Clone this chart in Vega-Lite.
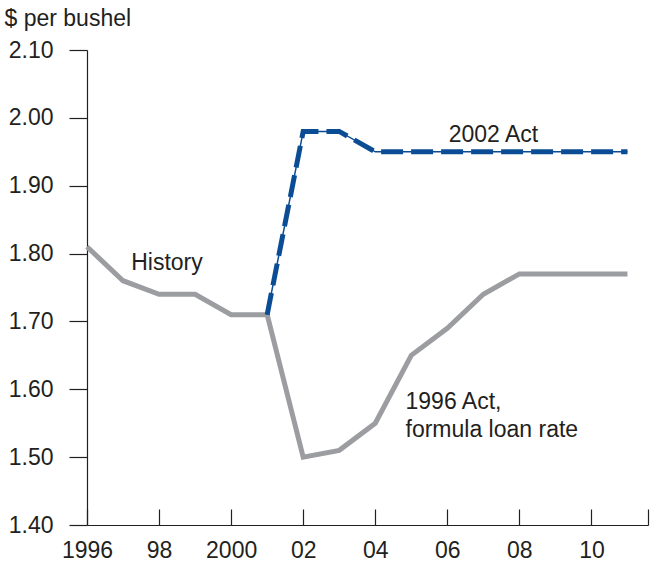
{
  "$schema": "https://vega.github.io/schema/vega-lite/v6.json",
  "width": 561,
  "height": 475,
  "autosize": {"type": "none"},
  "padding": {"left": 87, "top": 50, "right": 2, "bottom": 40},
  "background": "white",
  "config": {
    "view": {"stroke": null},
    "font": "Liberation Sans",
    "axis": {"grid": false, "domainColor": "#231f20", "tickColor": "#231f20", "labelColor": "#231f20", "titleColor": "#231f20", "labelFont": "Liberation Sans", "titleFont": "Liberation Sans", "labelFontSize": 23, "titleFontSize": 23, "titleFontWeight": "normal", "domainWidth": 1.2, "tickWidth": 1.2}
  },
  "datasets": {
    "lines": [
      {"year": 1996, "value": 1.81, "series": "History"},
      {"year": 1997, "value": 1.76, "series": "History"},
      {"year": 1998, "value": 1.74, "series": "History"},
      {"year": 1999, "value": 1.74, "series": "History"},
      {"year": 2000, "value": 1.71, "series": "History"},
      {"year": 2001, "value": 1.71, "series": "History"},
      {"year": 2001, "value": 1.71, "series": "1996 Act"},
      {"year": 2002, "value": 1.50, "series": "1996 Act"},
      {"year": 2003, "value": 1.51, "series": "1996 Act"},
      {"year": 2004, "value": 1.55, "series": "1996 Act"},
      {"year": 2005, "value": 1.65, "series": "1996 Act"},
      {"year": 2006, "value": 1.69, "series": "1996 Act"},
      {"year": 2007, "value": 1.74, "series": "1996 Act"},
      {"year": 2008, "value": 1.77, "series": "1996 Act"},
      {"year": 2009, "value": 1.77, "series": "1996 Act"},
      {"year": 2010, "value": 1.77, "series": "1996 Act"},
      {"year": 2011, "value": 1.77, "series": "1996 Act"},
      {"year": 2001, "value": 1.71, "series": "2002 Act"},
      {"year": 2002, "value": 1.98, "series": "2002 Act"},
      {"year": 2003, "value": 1.98, "series": "2002 Act"},
      {"year": 2004, "value": 1.95, "series": "2002 Act"},
      {"year": 2005, "value": 1.95, "series": "2002 Act"},
      {"year": 2006, "value": 1.95, "series": "2002 Act"},
      {"year": 2007, "value": 1.95, "series": "2002 Act"},
      {"year": 2008, "value": 1.95, "series": "2002 Act"},
      {"year": 2009, "value": 1.95, "series": "2002 Act"},
      {"year": 2010, "value": 1.95, "series": "2002 Act"},
      {"year": 2011, "value": 1.95, "series": "2002 Act"}
    ],
    "centerLabels": [
      {"year": 1998.22, "value": 1.786, "text": "History"},
      {"year": 2007.28, "value": 1.975, "text": "2002 Act"}
    ],
    "leftLabels": [
      {"year": 2004.84, "value": 1.581, "text": "1996 Act,"},
      {"year": 2004.84, "value": 1.540, "text": "formula loan rate"}
    ]
  },
  "encoding": {
    "x": {"field": "year", "type": "quantitative", "scale": {"domain": [1996, 2011.57], "nice": false, "zero": false},
      "axis": {"title": null, "values": [1996, 1998, 2000, 2002, 2004, 2006, 2008, 2010, 2011.57], "tickSize": -16, "labelPadding": 30, "labelFlush": false, "labelOverlap": false,
        "labelExpr": "datum.value > 2011 ? '' : (datum.value == 1996 || datum.value == 2000) ? toString(datum.value) : substring(toString(datum.value), 2, 4)"}},
    "y": {"field": "value", "type": "quantitative", "scale": {"domain": [1.4, 2.1], "nice": false, "zero": false},
      "axis": {"title": "$ per bushel", "values": [1.4, 1.5, 1.6, 1.7, 1.8, 1.9, 2.0, 2.1], "format": ".2f", "tickSize": 18, "labelPadding": 16, "titleAngle": 0, "titleAlign": "left", "titleBaseline": "alphabetic", "titleX": -83, "titleY": -25}}
  },
  "layer": [
    {
      "data": {"name": "lines"},
      "transform": [{"filter": "datum.series != '2002 Act'"}],
      "mark": {"type": "line", "color": "#9c9da1", "strokeWidth": 5, "strokeJoin": "miter", "strokeCap": "butt"},
      "encoding": {"detail": {"field": "series"}}
    },
    {
      "data": {"name": "lines"},
      "transform": [{"filter": "datum.series == '2002 Act'"}],
      "mark": {"type": "line", "color": "#0b4d94", "strokeWidth": 1.5},
      "encoding": {}
    },
    {
      "data": {"name": "lines"},
      "transform": [{"filter": "datum.series == '2002 Act'"}],
      "mark": {"type": "line", "color": "#0b4d94", "strokeWidth": 5, "strokeDash": [22, 8], "strokeCap": "butt", "strokeJoin": "miter"},
      "encoding": {}
    },
    {
      "data": {"name": "centerLabels"},
      "mark": {"type": "text", "fontSize": 23, "color": "#231f20", "baseline": "middle", "align": "center", "font": "Liberation Sans"},
      "encoding": {"text": {"field": "text"}}
    },
    {
      "data": {"name": "leftLabels"},
      "mark": {"type": "text", "fontSize": 23, "color": "#231f20", "baseline": "middle", "align": "left", "font": "Liberation Sans"},
      "encoding": {"text": {"field": "text"}}
    }
  ]
}
